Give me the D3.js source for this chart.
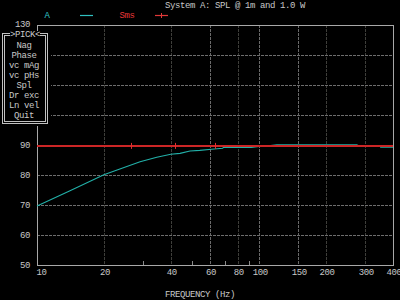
<!DOCTYPE html>
<html><head><meta charset="utf-8">
<script src="https://cdn.jsdelivr.net/npm/d3@7"></script>
<style>
html,body{margin:0;padding:0;background:#000;}
svg{display:block;}
text{font-family:"Liberation Mono","DejaVu Sans Mono",monospace;font-size:9px;letter-spacing:-0.4px;}
</style></head><body>
<svg id="c" width="400" height="300"></svg>
<script>
const title = "System A: SPL @ 1m and 1.0 W";
const xLabel = "FREQUENCY (Hz)";
const menuItems = ["Nag","Phase","vc mAg","vc pHs","Spl","Dr exc","Ln vel","Quit"];
const menuTitle = ">PICK<";
const xTicks = [10,20,40,60,80,100,150,200,300,400];
const xMinor = [30,50,70,90];
const yTicks = [50,60,70,80,90,100,110,120,130];
const yLabels = [50,60,70,80,90,130];
const seriesA_freq = [10,14,20,23.6,29.1,34.6,40,44,48.8,54,61,68.5,69,92,100,110,120,275,280,350,352,400];
const seriesA_db   = [69.7,74.7,80.1,82,84.4,85.9,86.9,87.2,88,88.2,88.6,88.9,89.2,89.2,89.5,89.75,90.05,90.05,89.75,89.75,89.3,89.3];
const seriesSms_freq = [10,400];
const seriesSms_db = [89.7,89.7];
const smsMarks = [26.5,42,63.5];

const svg = d3.select("#c");
const L=37,R=393,T=25,B=265;
const x = d3.scaleLog().domain([10,400]).range([L,R]);
const y = d3.scaleLinear().domain([50,130]).range([B,T]);
const txt="#c8c8c8";

// grid
svg.append("g").selectAll("line").data(xTicks.filter(d=>d>10&&d<400)).join("line")
  .attr("x1",d=>Math.round(x(d))+0.5).attr("x2",d=>Math.round(x(d))+0.5).attr("y1",T).attr("y2",B)
  .attr("stroke",d=>[60,100,150].includes(d)?"#6a6a6a":"#3e3e3a").attr("stroke-dasharray","3,1");
svg.append("g").selectAll("line").data(yTicks.filter(d=>d>50&&d<130&&d!==90)).join("line")
  .attr("x1",L).attr("x2",R).attr("y1",d=>Math.round(y(d))+0.5).attr("y2",d=>Math.round(y(d))+0.5)
  .attr("stroke","#6e6e6e").attr("stroke-dasharray","3,1");

// frame
svg.append("rect").attr("x",L+0.5).attr("y",T+0.5).attr("width",R-L).attr("height",B-T)
  .attr("fill","none").attr("stroke","#a8a8a8");

// minor ticks
svg.append("g").selectAll("line").data(xMinor).join("line")
  .attr("x1",d=>Math.round(x(d))+0.5).attr("x2",d=>Math.round(x(d))+0.5).attr("y1",B-4).attr("y2",B)
  .attr("stroke","#8a8a8a");

// x axis labels via d3 axis
const xa = svg.append("g").attr("transform",`translate(0,${B})`)
  .call(d3.axisBottom(x).tickValues(xTicks).tickFormat(d3.format("d")).tickSize(0).tickPadding(4));
xa.select(".domain").remove();
xa.selectAll("text").attr("fill",txt).attr("font-family",null).attr("font-size",null)
  .attr("text-anchor",d=>d===10?"start":d===400?"end":"middle")
  .attr("dx",d=>d===10?-1:d===400?8:0.5);

// y axis labels
const ya = svg.append("g").attr("transform",`translate(${L},0)`)
  .call(d3.axisLeft(y).tickValues(yLabels).tickFormat(d3.format("d")).tickSize(0).tickPadding(7));
ya.select(".domain").remove();
ya.selectAll("text").attr("fill",txt).attr("font-family",null).attr("font-size",null);
ya.selectAll("text").filter(d=>d===130).attr("dy","0.2em");

// series
const line = d3.line().x(d=>x(d[0])).y(d=>y(d[1]));
svg.append("path").datum(seriesA_freq.map((f,i)=>[f,seriesA_db[i]]))
  .attr("d",line).attr("fill","none").attr("stroke","#22b0a8").attr("stroke-width",1.1);
svg.append("path").datum(seriesSms_freq.map((f,i)=>[f,seriesSms_db[i]]))
  .attr("d",line).attr("fill","none").attr("stroke","#cc2626").attr("stroke-width",2)
  .attr("shape-rendering","crispEdges");
svg.append("g").selectAll("line").data(smsMarks).join("line")
  .attr("x1",d=>Math.round(x(d))+0.5).attr("x2",d=>Math.round(x(d))+0.5)
  .attr("y1",y(seriesSms_db[0])-3).attr("y2",y(seriesSms_db[0])+3)
  .attr("stroke","#e03030");

// title + legend
svg.append("text").attr("x",235).attr("y",8).attr("text-anchor","middle").attr("fill",txt).text(title);
svg.append("text").attr("x",47).attr("y",18).attr("text-anchor","middle").attr("fill","#30c8c8").text("A");
svg.append("line").attr("x1",80).attr("x2",93).attr("y1",15.5).attr("y2",15.5).attr("stroke","#30c0c0").attr("stroke-width",1.2);
svg.append("text").attr("x",127).attr("y",18).attr("text-anchor","middle").attr("fill","#e83838").text("Sms");
svg.append("line").attr("x1",155).attr("x2",168).attr("y1",15.5).attr("y2",15.5).attr("stroke","#e03838").attr("stroke-width",1.2);
svg.append("line").attr("x1",161.5).attr("x2",161.5).attr("y1",13).attr("y2",18).attr("stroke","#e03838");

// x label
svg.append("text").attr("x",200).attr("y",297).attr("text-anchor","middle").attr("fill",txt).text(xLabel);

// menu
const m = svg.append("g");
m.append("rect").attr("x",0).attr("y",31).attr("width",51).attr("height",95).attr("fill","#000");
m.append("rect").attr("x",2.5).attr("y",33.5).attr("width",45).attr("height",90).attr("fill","none").attr("stroke","#c0c0c0");
m.append("rect").attr("x",4.5).attr("y",35.5).attr("width",41).attr("height",86).attr("fill","none").attr("stroke","#c0c0c0");
m.append("rect").attr("x",10).attr("y",31).attr("width",30).attr("height",7).attr("fill","#000");
m.append("text").attr("x",25).attr("y",37).attr("text-anchor","middle").attr("fill",txt).text(menuTitle);
m.selectAll("text.it").data(menuItems).join("text").attr("class","it")
  .attr("x",24).attr("y",(d,i)=>47.5+i*10).attr("text-anchor","middle").attr("fill",txt).text(d=>d);
</script>
</body></html>
